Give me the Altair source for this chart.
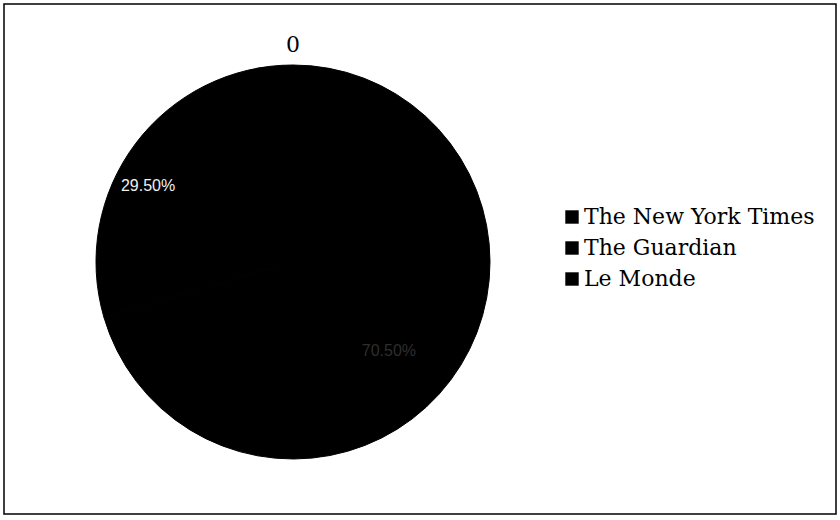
import altair as alt
import pandas as pd

# Readership shares of three newspapers
papers = ["The New York Times", "The Guardian", "Le Monde"]
shares = [70.5, 29.5, 0.0]
share_labels = ["70.50%", "29.50%", ""]
chart_title = "0"

df = pd.DataFrame({
    "paper": papers,
    "share": shares,
    "label": share_labels,
    "rank": list(range(len(papers))),
})

W, H = 832, 510
cx, cy, r = 289, 258, 197

base = alt.Chart(df)

pie = base.mark_arc(
    x=cx, y=cy, outerRadius=r, stroke="#000000", strokeWidth=1
).encode(
    theta=alt.Theta("share:Q", stack=True),
    order=alt.Order("rank:Q"),
    color=alt.Color(
        "paper:N",
        sort=papers,
        scale=alt.Scale(domain=papers, range=["#000000", "#000000", "#000000"]),
        legend=alt.Legend(
            title=None,
            orient="none",
            legendX=557,
            legendY=202,
            symbolType="square",
            symbolSize=180,
            symbolStrokeWidth=0,
            symbolFillColor="#000000",
            labelFont="DejaVu Serif",
            labelFontSize=22,
            labelColor="#000000",
            labelOffset=1,
            rowPadding=9,
            labelLimit=400,
        ),
    ),
)

# Mid-angle of each slice, as a fraction of the whole pie
mids = (
    base.transform_window(cum="sum(share)", sort=[alt.SortField("rank")])
    .transform_joinaggregate(total="sum(share)")
    .transform_calculate(mid="(datum.cum - datum.share / 2) / datum.total")
)
theta_mid = alt.Theta("mid:Q", scale=alt.Scale(domain=[0, 1], range=[0, 6.283185307]))

big_label = mids.transform_filter(alt.datum.paper == papers[0]).mark_text(
    x=cx, y=cy, radius=150, dx=-24, dy=-1,
    font="Liberation Sans", fontSize=16, color="#2e2e2e",
).encode(theta=theta_mid, text="label:N")

small_label = mids.transform_filter(alt.datum.paper == papers[1]).mark_text(
    x=cx, y=cy, radius=150, dx=-25, dy=14,
    font="Liberation Sans", fontSize=16, color="#f0f0f0",
).encode(theta=theta_mid, text="label:N")

title = alt.Chart(pd.DataFrame({"t": [chart_title]})).mark_text(
    x=cx, y=41, font="DejaVu Serif", fontSize=22, color="#000000"
).encode(text="t:N")

# Outer frame around the chart
frame = alt.Chart(pd.DataFrame({"t": [chart_title]})).mark_rect(
    fill=None, stroke="#000000", strokeWidth=1.5
).encode(
    x=alt.value(0), x2=alt.value(W), y=alt.value(0), y2=alt.value(H)
)

chart = (
    alt.layer(pie, big_label, small_label, title, frame)
    .resolve_scale(theta="independent")
    .properties(
        width=W,
        height=H,
        padding={"left": 4, "top": 4, "right": 4, "bottom": 6},
        autosize="none",
        background="#ffffff",
    )
    .configure_view(strokeWidth=0)
)

chart.save("out.html", embed_options={"renderer": "svg", "actions": False})
